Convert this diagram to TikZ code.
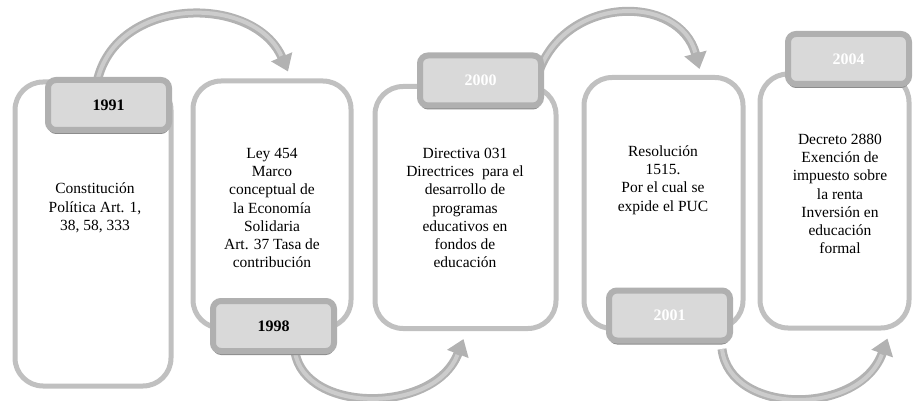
\documentclass[tikz,border=0pt]{standalone}
\usepackage{fontspec}
\setmainfont{Liberation Serif}
\usetikzlibrary{arrows.meta,shadows}
\definecolor{boxgray}{RGB}{192,192,192}
\definecolor{tabouter}{RGB}{176,176,176}
\definecolor{tabinner}{RGB}{217,217,217}
\definecolor{tabshadow}{RGB}{140,140,140}
\definecolor{arrgray}{RGB}{178,178,178}
\definecolor{arrlight}{RGB}{204,204,204}
\begin{document}
\begin{tikzpicture}[x=1pt,y=-1pt,
  card/.style={draw=boxgray, line width=5pt, rounded corners=28pt, fill=white, inner sep=0pt},
  tab/.style={draw=tabouter, fill=tabinner, line width=6pt, rounded corners=8pt,
    minimum width=121pt, minimum height=50pt, inner sep=0pt,
    font=\bfseries\fontsize{16}{18}\selectfont,
    drop shadow={shadow xshift=0pt, shadow yshift=-4pt, fill=tabshadow, opacity=1}},
  body/.style={align=center, font=\fontsize{15.5}{18.3}\selectfont, inner sep=0pt},
  arr/.style={draw=arrgray, line width=9pt, -{Triangle[width=22pt,length=16pt]}},
  arrhi/.style={draw=arrlight, line width=4pt, shorten >=17pt}
]
\useasboundingbox (0,0) rectangle (914,401);

% cards
\node[card, minimum width=156pt, minimum height=304pt] (c1) at (93,234) {};
\node[card, minimum width=158pt, minimum height=247pt] (c2) at (272,204.5) {};
\node[card, minimum width=181pt, minimum height=242pt] (c3) at (465.5,207.5) {};
\node[card, minimum width=159pt, minimum height=251pt] (c4) at (663.5,203) {};
\node[card, minimum width=149pt, minimum height=254pt] (c5) at (834.5,201) {};

% arrows (behind tabs)
\coordinate (a1s) at (98,78);
\draw[arr] (a1s) .. controls (120,-5) and (255,-5) .. ([xshift=16pt,yshift=7pt]c2.north);
\draw[arrhi] (a1s) .. controls (120,-5) and (255,-5) .. ([xshift=16pt,yshift=7pt]c2.north);
\coordinate (a2s) at (295,352);
\draw[arr] (a2s) .. controls (305,414) and (435,414) .. ([xshift=-2pt,yshift=-8pt]c3.south);
\draw[arrhi] (a2s) .. controls (305,414) and (435,414) .. ([xshift=-2pt,yshift=-8pt]c3.south);
\coordinate (a3s) at (538,74);
\draw[arr] (a3s) .. controls (565,-6) and (680,-6) .. ([xshift=36pt,yshift=6pt]c4.north);
\draw[arrhi] (a3s) .. controls (565,-6) and (680,-6) .. ([xshift=36pt,yshift=6pt]c4.north);
\coordinate (a4s) at (722,349);
\draw[arr] (a4s) .. controls (730,416) and (860,416) .. ([xshift=53pt,yshift=-8pt]c5.south);
\draw[arrhi] (a4s) .. controls (730,416) and (860,416) .. ([xshift=53pt,yshift=-8pt]c5.south);

% tabs
\node[tab, text=black] (y1991) at (108.5,105) {1991};
\node[tab, text=black] (y1998) at (273.5,326) {1998};
\node[tab, text=white] (y2000) at (480.5,80.5) {2000};
\node[tab, text=white] (y2001) at (669.5,315.5) {2001};
\node[tab, text=white] (y2004) at (848.5,59) {2004};

% texts
\node[body] (t1) at (95,208) {Constitución\\Política Art. 1,\\38, 58, 333};
\node[body] (t2) at (272,208) {Ley 454\\Marco\\conceptual de\\la Economía\\Solidaria\\Art. 37 Tasa de\\contribución};
\node[body] (t3) at (465,208) {Directiva 031\\Directrices\ \ para el\\desarrollo de\\programas\\educativos en\\fondos de\\educación};
\node[body] (t4) at (663,180) {Resolución\\1515.\\Por el cual se\\expide el PUC};
\node[body] (t5) at (840,194) {Decreto 2880\\Exención de\\impuesto sobre\\la renta\\Inversión en\\educación\\formal};
\end{tikzpicture}
\end{document}
